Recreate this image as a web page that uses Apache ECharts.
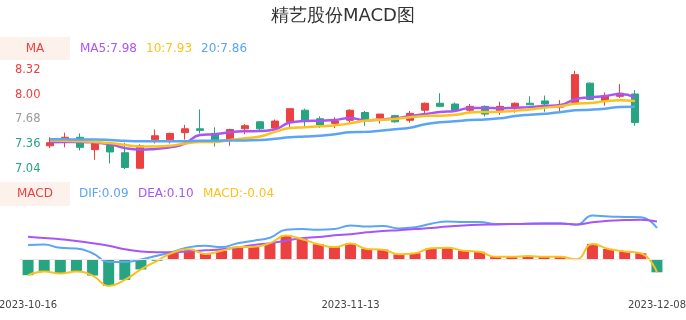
<!DOCTYPE html>
<html><head><meta charset="utf-8">
<script src="https://cdn.jsdelivr.net/npm/echarts@6/dist/echarts.min.js"></script>
<style>html,body{margin:0;padding:0;background:#fff}#c{width:686px;height:320px}</style>
</head><body><div id="c"></div>
<script>
const titleText = '精艺股份MACD图';
const dates = ['2023-10-16','2023-10-17','2023-10-18','2023-10-19','2023-10-20','2023-10-23','2023-10-24','2023-10-25','2023-10-26','2023-10-27','2023-10-30','2023-10-31','2023-11-01','2023-11-02','2023-11-03','2023-11-06','2023-11-07','2023-11-08','2023-11-09','2023-11-10','2023-11-13','2023-11-14','2023-11-15','2023-11-16','2023-11-17','2023-11-20','2023-11-21','2023-11-22','2023-11-23','2023-11-24','2023-11-27','2023-11-28','2023-11-29','2023-11-30','2023-12-01','2023-12-04','2023-12-05','2023-12-06','2023-12-07','2023-12-08'];
const openP  = [7.34,7.43,7.45,7.29,7.36,7.25,7.05,7.42,7.42,7.51,7.56,7.50,7.42,7.56,7.65,7.57,7.65,7.80,7.69,7.63,7.67,7.77,7.70,7.73,7.67,7.80,7.89,7.88,7.80,7.85,7.79,7.84,7.89,7.92,7.84,7.90,8.15,7.92,7.98,8.01];
const closeP = [7.38,7.45,7.32,7.38,7.26,7.06,7.34,7.47,7.50,7.56,7.54,7.40,7.55,7.60,7.56,7.66,7.82,7.66,7.61,7.66,7.80,7.67,7.75,7.65,7.76,7.89,7.85,7.80,7.85,7.75,7.85,7.89,7.87,7.88,7.85,8.26,7.94,7.99,8.02,7.64];
const lowP   = [7.31,7.32,7.28,7.16,7.11,7.04,7.04,7.37,7.37,7.42,7.50,7.33,7.34,7.49,7.54,7.56,7.57,7.59,7.57,7.57,7.63,7.60,7.63,7.64,7.64,7.75,7.84,7.79,7.77,7.72,7.74,7.77,7.87,7.78,7.79,7.89,7.93,7.86,7.96,7.60];
const highP  = [7.45,7.51,7.50,7.38,7.36,7.38,7.36,7.55,7.51,7.61,7.81,7.58,7.56,7.62,7.66,7.68,7.82,7.82,7.72,7.71,7.81,7.79,7.75,7.74,7.79,7.90,8.02,7.90,7.88,7.86,7.91,7.90,7.98,7.99,7.93,8.31,8.16,8.03,8.14,8.06];
const ma5  = [7.385,7.39,7.39,7.38,7.36,7.31,7.29,7.30,7.32,7.37,7.48,7.49,7.515,7.527,7.53,7.553,7.64,7.66,7.665,7.674,7.70,7.67,7.68,7.695,7.725,7.75,7.777,7.79,7.829,7.83,7.825,7.833,7.84,7.855,7.867,7.94,7.966,7.984,8.01,7.97];
const ma10 = [7.41,7.405,7.40,7.39,7.375,7.35,7.33,7.33,7.34,7.37,7.39,7.39,7.415,7.437,7.46,7.52,7.57,7.58,7.592,7.605,7.63,7.665,7.678,7.687,7.71,7.725,7.73,7.74,7.77,7.777,7.78,7.794,7.81,7.833,7.85,7.884,7.893,7.915,7.928,7.92];
const ma20 = [7.424,7.424,7.42,7.42,7.415,7.405,7.40,7.40,7.40,7.40,7.405,7.405,7.41,7.41,7.415,7.43,7.45,7.46,7.47,7.49,7.515,7.52,7.535,7.553,7.574,7.618,7.644,7.657,7.674,7.68,7.695,7.725,7.742,7.755,7.773,7.80,7.807,7.82,7.842,7.845];
const dif  = [0.039,0.040,0.031,0.029,0.016,-0.008,-0.008,-0.001,0.009,0.020,0.033,0.037,0.033,0.044,0.051,0.059,0.081,0.083,0.081,0.083,0.093,0.090,0.092,0.085,0.088,0.098,0.104,0.103,0.103,0.097,0.097,0.098,0.099,0.099,0.095,0.121,0.118,0.117,0.116,0.086];
const dea  = [0.062,0.058,0.055,0.050,0.044,0.037,0.027,0.021,0.019,0.019,0.021,0.024,0.027,0.032,0.039,0.044,0.051,0.058,0.061,0.066,0.069,0.074,0.078,0.080,0.083,0.086,0.090,0.093,0.095,0.096,0.097,0.098,0.098,0.098,0.096,0.102,0.106,0.108,0.109,0.104];
const macd = [-0.045,-0.035,-0.040,-0.035,-0.046,-0.075,-0.058,-0.029,-0.005,0.018,0.027,0.014,0.023,0.033,0.034,0.044,0.065,0.055,0.041,0.033,0.043,0.028,0.026,0.013,0.016,0.030,0.031,0.023,0.020,0.006,0.006,0.008,0.006,0.006,-0.001,0.042,0.028,0.021,0.016,-0.037];
const priceTicks = [7.04, 7.36, 7.68, 8.00, 8.32];
const maLegend = ['MA5:7.98', '10:7.93', '20:7.86'];
const macdLegend = ['DIF:0.09', 'DEA:0.10', 'MACD:-0.04'];
const xLabelIdx = [0, 20, 39];

const RED = '#ec4141', GREEN = '#27a482';
const PURPLE = '#a855f7', YELLOW = '#fbc21d', BLUE = '#5ca5f5';
const BOX = '#fdf1ec';
const FONT = '"DejaVu Sans", sans-serif';

const kData = openP.map((o, i) => [o, closeP[i], lowP[i], highP[i]]);
const macdBars = macd.map(v => ({value: v, itemStyle: {color: v >= 0 ? RED : GREEN}}));

const chart = echarts.init(document.getElementById('c'), null, {renderer: 'canvas'});
function txt(x, y, text, fill, align) {
  return {type: 'text', x: x, y: y, silent: true, style: {text: text, fill: fill, font: '12px ' + FONT, textAlign: align || 'left', textVerticalAlign: 'middle'}};
}
chart.setOption({
  animation: false,
  textStyle: {fontFamily: FONT},
  title: {text: titleText, left: 'center', top: 2, textStyle: {fontSize: 18, fontWeight: 'normal', color: '#333', fontFamily: FONT}},
  graphic: [
    {type: 'rect', shape: {x: 0, y: 37, width: 70, height: 23}, style: {fill: BOX}, silent: true},
    txt(35, 48.5, 'MA', RED, 'center'),
    txt(80, 48.5, maLegend[0], PURPLE),
    txt(146, 48.5, maLegend[1], YELLOW),
    txt(201, 48.5, maLegend[2], BLUE),
    {type: 'rect', shape: {x: 0, y: 182, width: 70, height: 24}, style: {fill: BOX}, silent: true},
    txt(35, 193.5, 'MACD', RED, 'center'),
    txt(79, 193.5, macdLegend[0], BLUE),
    txt(138, 193.5, macdLegend[1], PURPLE),
    txt(203, 193.5, macdLegend[2], YELLOW)
  ],
  grid: [
    {left: 42.5, width: 600, top: 70, height: 99, containLabel: false, outerBoundsMode: 'none'},
    {left: 20, width: 645, top: 205, height: 90, containLabel: false, outerBoundsMode: 'none'}
  ],
  xAxis: [
    {type: 'category', gridIndex: 0, data: dates, boundaryGap: true, show: false},
    {type: 'category', gridIndex: 1, data: dates, boundaryGap: true,
     axisLine: {show: false}, axisTick: {show: false},
     axisLabel: {margin: 5, fontSize: 10, color: '#444', fontFamily: FONT, hideOverlap: false,
       interval: (i) => xLabelIdx.indexOf(i) >= 0}}
  ],
  yAxis: [
    {type: 'value', gridIndex: 0, min: 7.04, max: 8.32, interval: 0.32, splitLine: {show: false},
     axisLine: {show: false}, axisTick: {show: false},
     axisLabel: {margin: 2, fontSize: 11.5, fontFamily: FONT, formatter: v => v.toFixed(2),
       color: v => (Math.abs(v - 7.68) < 1e-6 ? '#999' : (v > 7.68 ? RED : GREEN))}},
    {type: 'value', gridIndex: 1, min: -0.1, max: 0.15, show: false, splitLine: {show: false}}
  ],
  series: [
    {type: 'candlestick', xAxisIndex: 0, yAxisIndex: 0, data: kData, barWidth: 8,
     itemStyle: {color: RED, color0: GREEN, borderColor: RED, borderColor0: GREEN, borderWidth: 1}},
    {type: 'line', xAxisIndex: 0, yAxisIndex: 0, data: ma5, smooth: true, showSymbol: false, lineStyle: {color: PURPLE, width: 2.5}},
    {type: 'line', xAxisIndex: 0, yAxisIndex: 0, data: ma10, smooth: true, showSymbol: false, lineStyle: {color: YELLOW, width: 2.5}},
    {type: 'line', xAxisIndex: 0, yAxisIndex: 0, data: ma20, smooth: true, showSymbol: false, lineStyle: {color: BLUE, width: 2.5}},
    {type: 'bar', xAxisIndex: 1, yAxisIndex: 1, data: macdBars, barWidth: 11,
     markLine: {silent: true, symbol: 'none', label: {show: false}, lineStyle: {color: '#f3e3e3', width: 1, type: 'solid'}, data: [{yAxis: 0}]}},
    {type: 'line', xAxisIndex: 1, yAxisIndex: 1, data: dif, smooth: true, showSymbol: false, lineStyle: {color: BLUE, width: 2}},
    {type: 'line', xAxisIndex: 1, yAxisIndex: 1, data: dea, smooth: true, showSymbol: false, lineStyle: {color: PURPLE, width: 2}},
    {type: 'line', xAxisIndex: 1, yAxisIndex: 1, data: macd, smooth: true, showSymbol: false, lineStyle: {color: YELLOW, width: 2}}
  ]
});
</script></body></html>
